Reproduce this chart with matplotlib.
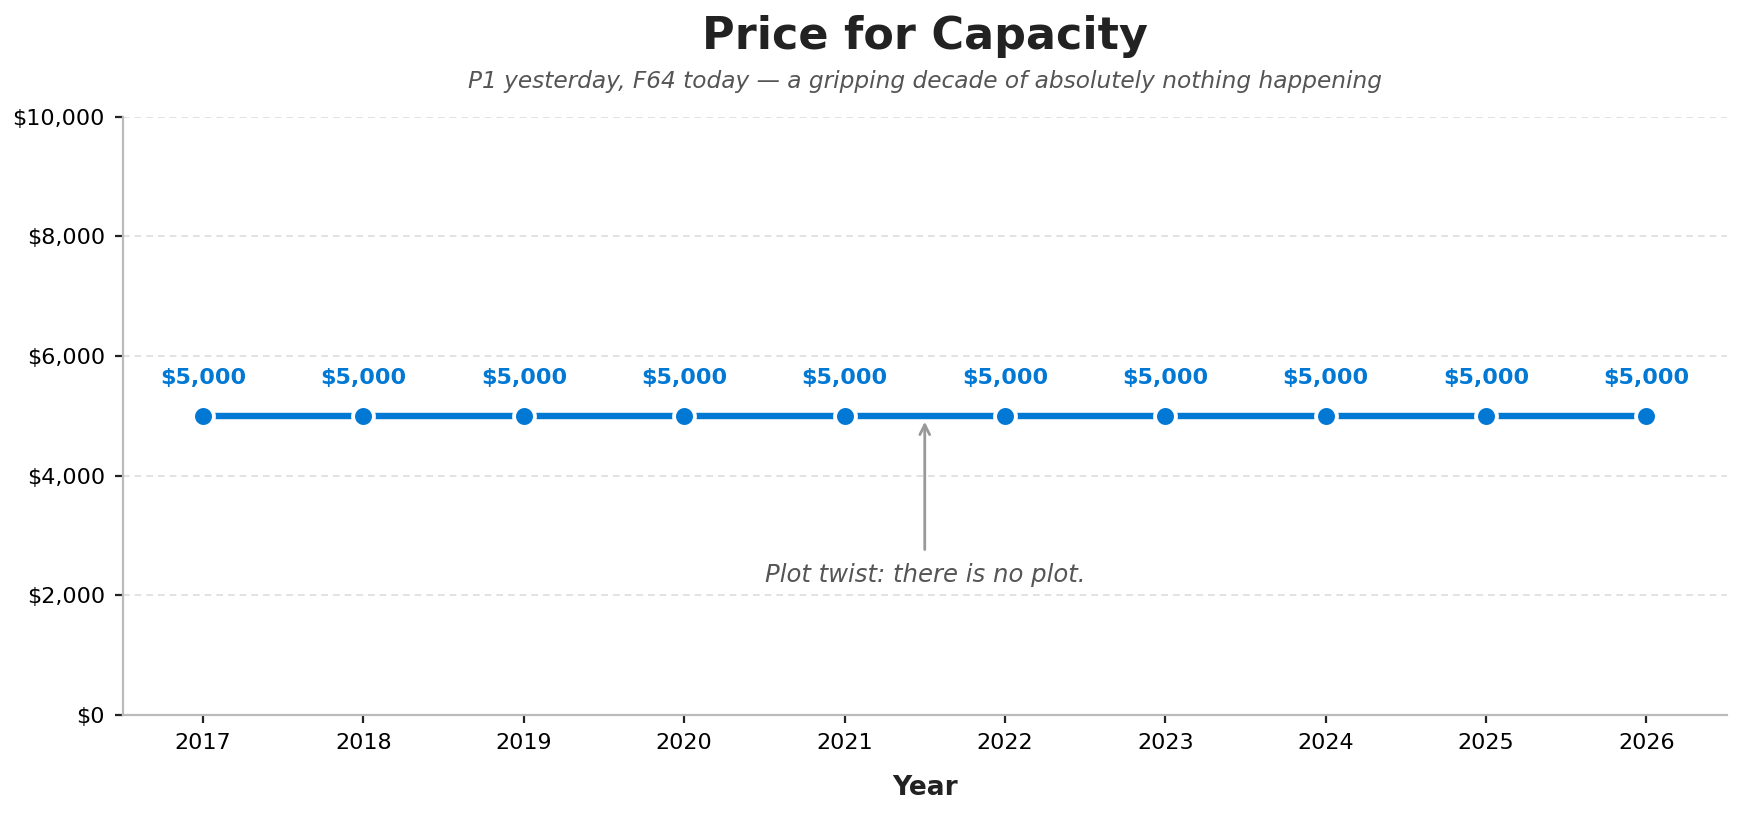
import matplotlib
matplotlib.use("Agg")
import matplotlib.pyplot as plt
from matplotlib.ticker import FuncFormatter

years = [2017, 2018, 2019, 2020, 2021, 2022, 2023, 2024, 2025, 2026]
prices = [5000, 5000, 5000, 5000, 5000, 5000, 5000, 5000, 5000, 5000]
title = "Price for Capacity"
subtitle = "P1 yesterday, F64 today \u2014 a gripping decade of absolutely nothing happening"
note = "Plot twist: there is no plot."

blue = "#0078D4"
plt.rcParams['font.family'] = ['DejaVu Sans']

fig, ax = plt.subplots(figsize=(8.72, 4.08), dpi=200)
fig.subplots_adjust(left=0.0705, right=0.99, top=0.857, bottom=0.124)

ax.plot(years, prices, color=blue, lw=2.3, marker='o', markersize=7.5,
        markerfacecolor=blue, markeredgecolor='white', markeredgewidth=1.4, zorder=3)
for x, y in zip(years, prices):
    ax.annotate(f"${y:,.0f}", (x, y), xytext=(0, 10), textcoords='offset points',
                ha='center', va='bottom', fontsize=8, fontweight='bold', color=blue)

ax.annotate(note, xy=(2021.5, 4900), xytext=(2021.5, 2330), ha='center', va='center',
            fontsize=8.8, style='italic', color='#555555',
            arrowprops=dict(arrowstyle='->', color='#999999', lw=1.0, shrinkA=3, shrinkB=0))

ax.set_xlim(2016.5, 2026.5)
ax.set_ylim(0, 10000)
ax.set_xticks(years)
ax.set_yticks(range(0, 10001, 2000))
ax.yaxis.set_major_formatter(FuncFormatter(lambda v, p: f"${v:,.0f}"))
ax.tick_params(labelsize=8, length=3, width=0.8, colors='#222222')
ax.tick_params(axis='both', labelcolor='black')
ax.grid(axis='y', linestyle='--', color='#dddddd', lw=0.6, dashes=(4, 3))
ax.set_axisbelow(True)
for s in ['top', 'right']:
    ax.spines[s].set_visible(False)
for s in ['left', 'bottom']:
    ax.spines[s].set_color('#bbbbbb')
    ax.spines[s].set_linewidth(0.8)

ax.set_xlabel("Year", fontsize=9.5, fontweight='bold', color='#222222', labelpad=8)
fig.text(0.5305, 0.955, title, ha='center', va='center', fontsize=16, fontweight='bold', color='#222222')
fig.text(0.5305, 0.9, subtitle, ha='center', va='center', fontsize=8.4, style='italic', color='#555555')

fig.savefig("out.png", dpi=200)
